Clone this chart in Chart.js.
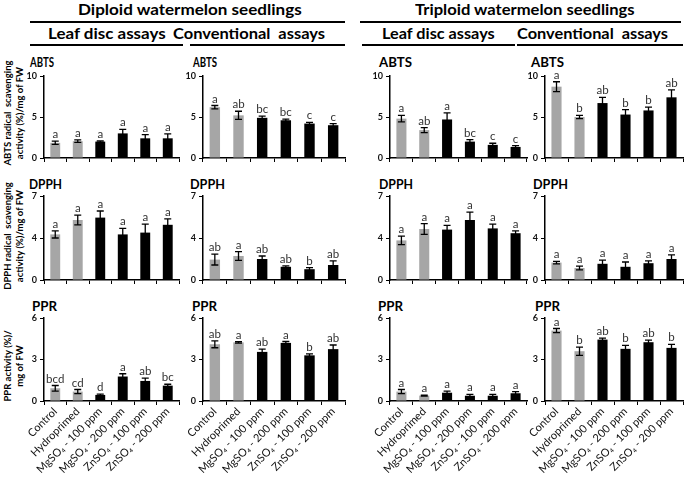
<!DOCTYPE html>
<html>
<head>
<meta charset="utf-8">
<script src="https://cdn.jsdelivr.net/npm/chart.js@4.4.1/dist/chart.umd.min.js"></script>
<style>
  body { margin: 0; background: #fff; }
  #main { position: relative; width: 685px; height: 477px; overflow: hidden; font-family: Lato, "Open Sans", sans-serif; color: #000; }
  .txt { position: absolute; white-space: pre; font-weight: bold; line-height: 1; transform-origin: 0 0; }
  .line { position: absolute; height: 2px; background: #000; }
  .ytitle { position: absolute; width: 130px; height: 24px; font-size: 9.5px; font-weight: bold; line-height: 12px; text-align: center; white-space: pre; transform: rotate(-90deg); }
  canvas { position: absolute; }
</style>
</head>
<body>
<div id="main"></div>
<script>
// categories
const treatments = ["Control", "Hydroprimed", "MgSO\u2084 - 100 ppm", "MgSO\u2084 - 200 ppm", "ZnSO\u2084 - 100 ppm", "ZnSO\u2084 - 200 ppm"];

// axis ticks per assay
const abtsTicks = ["0", "5", "10"];
const dpphTicks = ["0", "4", "7"];
const pprTicks = ["0", "3", "6"];
const abtsMax = 10;
const dpphMax = 7;
const pprMax = 6;

// ABTS
const dipLeafAbts = [1.85, 2.05, 2.0, 3.0, 2.4, 2.4];
const dipLeafAbtsErr = [0.2, 0.15, 0.1, 0.5, 0.45, 0.55];
const dipLeafAbtsSig = ["a", "a", "a", "a", "a", "a"];
const dipConvAbts = [6.2, 5.2, 4.9, 4.6, 4.2, 4.0];
const dipConvAbtsErr = [0.2, 0.5, 0.2, 0.15, 0.15, 0.2];
const dipConvAbtsSig = ["a", "ab", "bc", "bc", "c", "c"];
const triLeafAbts = [4.8, 3.4, 4.7, 2.0, 1.6, 1.35];
const triLeafAbtsErr = [0.4, 0.3, 0.8, 0.25, 0.2, 0.15];
const triLeafAbtsSig = ["a", "ab", "a", "bc", "c", "c"];
const triConvAbts = [8.7, 5.0, 6.7, 5.3, 5.8, 7.4];
const triConvAbtsErr = [0.6, 0.2, 0.7, 0.6, 0.4, 0.9];
const triConvAbtsSig = ["a", "b", "ab", "b", "b", "ab"];

// DPPH
const dipLeafDpph = [3.8, 5.0, 5.2, 3.8, 3.95, 4.6];
const dipLeafDpphErr = [0.3, 0.4, 0.55, 0.5, 0.7, 0.5];
const dipLeafDpphSig = ["a", "a", "a", "a", "a", "a"];
const dipConvDpph = [1.7, 2.0, 1.75, 1.1, 0.9, 1.25];
const dipConvDpphErr = [0.45, 0.37, 0.25, 0.07, 0.13, 0.35];
const dipConvDpphSig = ["ab", "a", "ab", "ab", "b", "ab"];
const triLeafDpph = [3.3, 4.25, 4.2, 5.0, 4.3, 3.9];
const triLeafDpphErr = [0.35, 0.45, 0.35, 0.65, 0.35, 0.2];
const triLeafDpphSig = ["a", "a", "a", "a", "a", "a"];
const triConvDpph = [1.45, 1.0, 1.35, 1.1, 1.4, 1.75];
const triConvDpphErr = [0.1, 0.15, 0.3, 0.4, 0.2, 0.35];
const triConvDpphSig = ["a", "a", "a", "a", "a", "a"];

// PPR
const dipLeafPpr = [0.92, 0.68, 0.44, 1.77, 1.45, 1.11];
const dipLeafPprErr = [0.2, 0.15, 0.05, 0.2, 0.2, 0.1];
const dipLeafPprSig = ["bcd", "cd", "d", "a", "ab", "bc"];
const dipConvPpr = [4.1, 4.24, 3.55, 4.2, 3.3, 3.75];
const dipConvPprErr = [0.25, 0.05, 0.2, 0.1, 0.1, 0.3];
const dipConvPprSig = ["ab", "a", "ab", "a", "b", "ab"];
const triLeafPpr = [0.68, 0.39, 0.6, 0.38, 0.38, 0.56];
const triLeafPprErr = [0.15, 0.03, 0.12, 0.1, 0.1, 0.12];
const triLeafPprSig = ["a", "a", "a", "a", "a", "a"];
const triConvPpr = [5.09, 3.6, 4.44, 3.77, 4.25, 3.84];
const triConvPprErr = [0.15, 0.3, 0.1, 0.25, 0.15, 0.25];
const triConvPprSig = ["a", "b", "ab", "b", "ab", "b"];

const barColors = ["#a6a6a6", "#a6a6a6", "#000", "#000", "#000", "#000"];

const main_Contain = document.getElementById("main");

//layout of the plot areas
const col_Box = [[44, 179], [203, 345], [390, 527], [545, 683]];
const row_Box = [[76, 158], [196, 280], [318, 401]];
const yAxisW = 27;
const padTop = 8;

function fit_Text(el, width) {
  const ctx = document.createElement("canvas").getContext("2d");
  const cs = getComputedStyle(el);
  ctx.font = `${cs.fontWeight} ${cs.fontSize} ${cs.fontFamily}`;
  const w = ctx.measureText(el.textContent).width;
  el.style.transform = `scaleX(${width / w})`;
}

function add_Text(text, x, top, size, width) {
  const el = document.createElement("div");
  el.className = "txt";
  el.textContent = text;
  el.style.left = x + "px";
  el.style.top = top + "px";
  el.style.fontSize = size + "px";
  main_Contain.append(el);
  fit_Text(el, width);
}

function add_Line(x0, x1, y) {
  const el = document.createElement("div");
  el.className = "line";
  el.style.left = x0 + "px";
  el.style.top = y + "px";
  el.style.width = x1 - x0 + "px";
  main_Contain.append(el);
}

function add_YTitle(text, cx, cy) {
  const el = document.createElement("div");
  el.className = "ytitle";
  el.textContent = text;
  el.style.left = cx - 65 + "px";
  el.style.top = cy - 12 + "px";
  main_Contain.append(el);
}

// error bars + letters
const err_Plugin = {
  id: "errBars",
  afterDatasetsDraw(chart) {
    const ctx = chart.ctx;
    const ds = chart.data.datasets[0];
    const meta = chart.getDatasetMeta(0);
    const yScale = chart.scales.y;
    ctx.save();
    meta.data.forEach((bar, i) => {
      const yHi = yScale.getPixelForValue(ds.data[i] + ds.errs[i]);
      const yLo = yScale.getPixelForValue(ds.data[i] - ds.errs[i]);
      ctx.strokeStyle = "#000";
      ctx.lineWidth = 1.3;
      ctx.beginPath();
      ctx.moveTo(bar.x, yHi);
      ctx.lineTo(bar.x, yLo);
      ctx.moveTo(bar.x - 3.5, yHi);
      ctx.lineTo(bar.x + 3.5, yHi);
      ctx.moveTo(bar.x - 3.5, yLo);
      ctx.lineTo(bar.x + 3.5, yLo);
      ctx.stroke();
      ctx.fillStyle = "#333";
      ctx.font = "11.5px Lato";
      ctx.textAlign = "center";
      ctx.textBaseline = "alphabetic";
      ctx.fillText(ds.sig[i], bar.x, yHi - 3);
    });
    ctx.restore();
  },
};

function create_Panel(col, row, values, errs, sig, max, tickLabels) {
  const [x0, x1] = col_Box[col];
  const [y0, y1] = row_Box[row];
  const bottomRow = row === 2;
  const left = x0 - yAxisW;
  const top = y0 - padTop;
  const w = x1 - left + 2;
  const h = bottomRow ? 477 - top : y1 - y0 + padTop + 6;
  const xh = h - padTop - (y1 - y0);

  const canvas = document.createElement("canvas");
  canvas.width = w;
  canvas.height = h;
  canvas.style.left = left + "px";
  canvas.style.top = top + "px";
  canvas.style.width = w + "px";
  canvas.style.height = h + "px";
  main_Contain.append(canvas);

  new Chart(canvas, {
    type: "bar",
    data: {
      labels: treatments,
      datasets: [
        {
          data: values,
          errs,
          sig,
          backgroundColor: barColors,
          barPercentage: 0.44,
          categoryPercentage: 1,
        },
      ],
    },
    options: {
      responsive: false,
      animation: false,
      layout: { padding: { top: padTop, right: 2, left: 0, bottom: 0 } },
      plugins: { legend: { display: false }, tooltip: { enabled: false } },
      scales: {
        x: {
          grid: { offset: true, drawOnChartArea: false, tickLength: 4, color: "#000", lineWidth: 1 },
          border: { color: "#000", width: 1.5 },
          ticks: {
            display: bottomRow,
            autoSkip: false,
            maxRotation: 45,
            minRotation: 45,
            padding: 0,
            color: "#111",
            font: { family: "Lato", size: 11 },
          },
          afterFit: (s) => {
            s.height = xh;
            s.paddingLeft = 0;
            s.paddingRight = 0;
          },
        },
        y: {
          min: 0,
          max,
          ticks: {
            stepSize: max / 2,
            callback: (v, i) => tickLabels[i],
            padding: 3,
            color: "#111",
            font: { family: "Lato", size: 9, weight: "bold" },
          },
          grid: { drawOnChartArea: false, tickLength: 4, color: "#000" },
          border: { color: "#000", width: 1.5 },
          afterFit: (s) => {
            s.width = yAxisW;
            s.paddingTop = 0;
            s.paddingBottom = 0;
          },
        },
      },
    },
    plugins: [err_Plugin],
  });
}

// headers
add_Text("Diploid watermelon seedlings", 78, 1, 16, 224);
add_Text("Triploid watermelon seedlings", 415, 1, 16, 220);
add_Line(30, 345, 21);
add_Line(360, 681, 21);
add_Text("Leaf disc assays", 48, 26, 15, 118);
add_Text("Conventional  assays", 173, 26, 15, 152);
add_Text("Leaf disc assays", 382, 26, 15, 113);
add_Text("Conventional  assays", 517, 26, 15, 151);
add_Line(30, 183, 44);
add_Line(190, 345, 44);
add_Line(362, 515, 44);
add_Line(517, 683, 44);

// panel titles
add_Text("ABTS", 30, 54.5, 14, 24);
add_Text("ABTS", 193, 54.5, 14, 24);
add_Text("ABTS", 379, 54.5, 14, 33);
add_Text("ABTS", 531, 54.5, 14, 33);
add_Text("DPPH", 29, 178, 13.5, 33);
add_Text("DPPH", 190, 178, 13.5, 35);
add_Text("DPPH", 379, 178, 13.5, 34);
add_Text("DPPH", 533, 178, 13.5, 35);
add_Text("PPR", 32, 299.5, 13, 25);
add_Text("PPR", 192, 299.5, 13, 25);
add_Text("PPR", 378, 299.5, 13, 25);
add_Text("PPR", 535, 299.5, 13, 25);

// y titles
add_YTitle("ABTS radical  scavenging\nactivity (%)/mg of FW", 14, 113);
add_YTitle("DPPH radical  scavenging\nactivity (%)/mg of FW", 14, 236);
add_YTitle("PPR activity (%)/\nmg of FW", 14, 366);

// charts
create_Panel(0, 0, dipLeafAbts, dipLeafAbtsErr, dipLeafAbtsSig, abtsMax, abtsTicks);
create_Panel(1, 0, dipConvAbts, dipConvAbtsErr, dipConvAbtsSig, abtsMax, abtsTicks);
create_Panel(2, 0, triLeafAbts, triLeafAbtsErr, triLeafAbtsSig, abtsMax, abtsTicks);
create_Panel(3, 0, triConvAbts, triConvAbtsErr, triConvAbtsSig, abtsMax, abtsTicks);
create_Panel(0, 1, dipLeafDpph, dipLeafDpphErr, dipLeafDpphSig, dpphMax, dpphTicks);
create_Panel(1, 1, dipConvDpph, dipConvDpphErr, dipConvDpphSig, dpphMax, dpphTicks);
create_Panel(2, 1, triLeafDpph, triLeafDpphErr, triLeafDpphSig, dpphMax, dpphTicks);
create_Panel(3, 1, triConvDpph, triConvDpphErr, triConvDpphSig, dpphMax, dpphTicks);
create_Panel(0, 2, dipLeafPpr, dipLeafPprErr, dipLeafPprSig, pprMax, pprTicks);
create_Panel(1, 2, dipConvPpr, dipConvPprErr, dipConvPprSig, pprMax, pprTicks);
create_Panel(2, 2, triLeafPpr, triLeafPprErr, triLeafPprSig, pprMax, pprTicks);
create_Panel(3, 2, triConvPpr, triConvPprErr, triConvPprSig, pprMax, pprTicks);
</script>
</body>
</html>
